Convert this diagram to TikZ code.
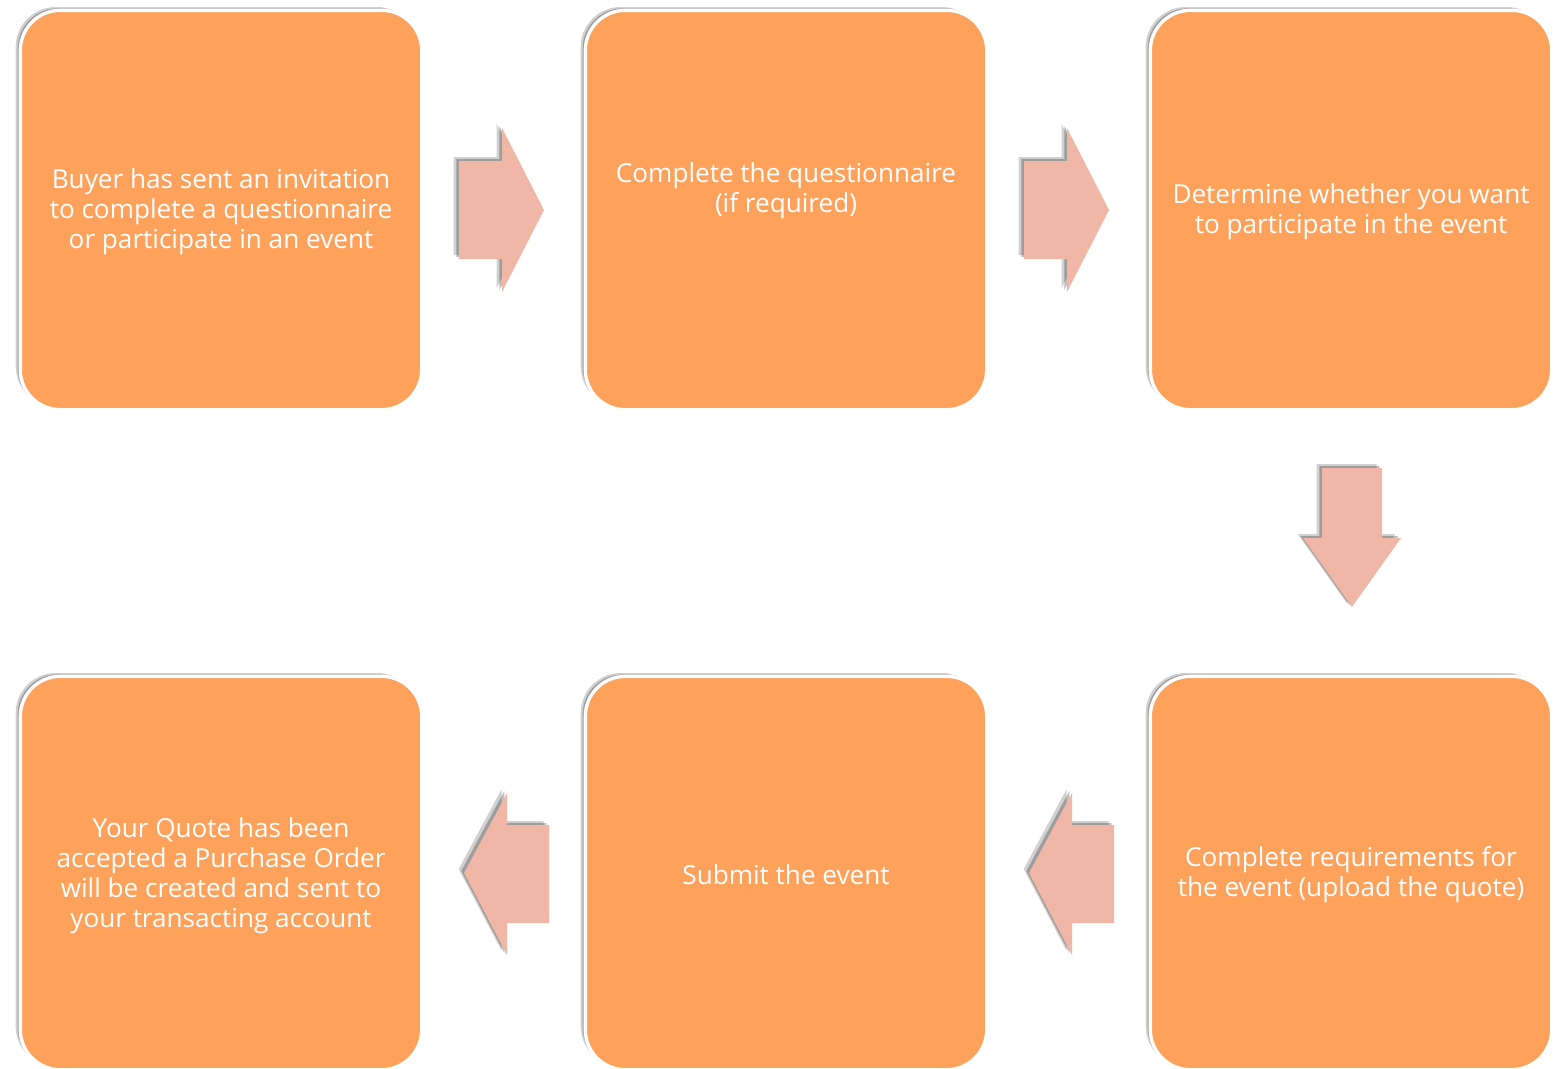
\documentclass[tikz,border=0pt]{standalone}
\usepackage{fontspec}
\setmainfont{Open Sans}
\usetikzlibrary{shadows}
\definecolor{boxor}{RGB}{253,161,91}
\definecolor{arrpk}{RGB}{240,182,166}
\tikzset{
  stepbox/.style={draw=white, line width=2.5pt, fill=boxor, rounded corners=30pt,
    minimum width=301pt, minimum height=299.5pt, inner sep=0pt,
    drop shadow={shadow xshift=-3.5pt, shadow yshift=2.5pt, opacity=0.18, fill=black},
    drop shadow={shadow xshift=-2pt, shadow yshift=1.5pt, opacity=0.25, fill=black}},
  steptext/.style={text=white, align=center, font=\fontsize{19.6}{22.5}\selectfont, inner sep=0pt},
  blockarrow/.style={fill=arrpk, draw=none,
    drop shadow={shadow xshift=-4pt, shadow yshift=3pt, opacity=0.18, fill=black},
    drop shadow={shadow xshift=-2pt, shadow yshift=1.5pt, opacity=0.25, fill=black}}
}
\begin{document}
\begin{tikzpicture}[x=0.75pt,y=-0.75pt]
\useasboundingbox (0,0) rectangle (1558,1068);
% boxes
\node[stepbox] (b1) at (221,210) {};
\node[stepbox] (b2) at (786,210) {};
\node[stepbox] (b3) at (1351,210) {};
\node[stepbox, minimum height=295pt] (b4) at (1351,873) {};
\node[stepbox, minimum height=295pt] (b5) at (786,873) {};
\node[stepbox, minimum height=295pt] (b6) at (221,873) {};
% texts
\node[steptext] (t1) at (221,212) {Buyer has sent an invitation\\to complete a questionnaire\\or participate in an event};
\node[steptext] (t2) at (786,191) {Complete the questionnaire\\(if required)};
\node[steptext] (t3) at (1351,212) {Determine whether you want\\to participate in the event};
\node[steptext] (t4) at (1351,875) {Complete requirements for\\the event (upload the quote)};
\node[steptext] (t5) at (786,875) {Submit the event};
\node[steptext] (t6) at (221,876) {Your Quote has been\\accepted a Purchase Order\\will be created and sent to\\your transacting account};
% arrows
\path[blockarrow] (459,161) -- (502,161) -- (502,128) -- (544,210) -- (502,292) -- (502,259) -- (459,259) -- cycle;
\path[blockarrow] (1024,161) -- (1067,161) -- (1067,128) -- (1109,210) -- (1067,292) -- (1067,259) -- (1024,259) -- cycle;
\path[blockarrow] (1322,468) -- (1382,468) -- (1382,538) -- (1401,538) -- (1352,607) -- (1303,538) -- (1322,538) -- cycle;
\path[blockarrow] (1114,825) -- (1072,825) -- (1072,793) -- (1029,873) -- (1072,955) -- (1072,923) -- (1114,923) -- cycle;
\path[blockarrow] (549,825) -- (507,825) -- (507,793) -- (464,873) -- (507,955) -- (507,923) -- (549,923) -- cycle;
\end{tikzpicture}
\end{document}
